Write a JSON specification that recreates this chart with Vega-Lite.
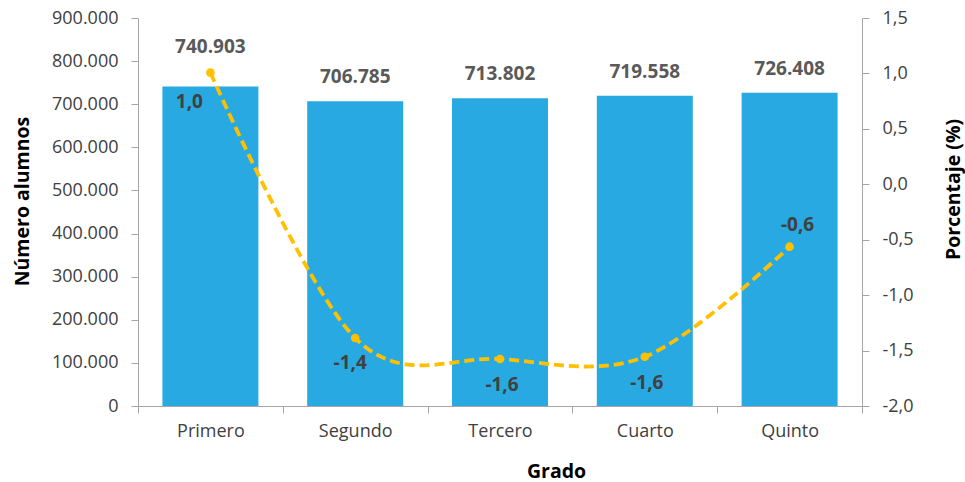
{
  "$schema": "https://vega.github.io/schema/vega-lite/v6.json",
  "width": 724,
  "height": 388,
  "autosize": {"type": "none"},
  "padding": {"left": 138, "top": 18, "right": 103, "bottom": 76},
  "background": "#ffffff",
  "config": {
    "locale": {"number": {"decimal": ",", "thousands": ".", "grouping": [3], "currency": ["", " €"], "minus": "-"}},
    "view": {"stroke": null},
    "font": "Open Sans",
    "axis": {
      "grid": false,
      "domainColor": "#A6A6A6",
      "tickColor": "#A6A6A6",
      "tickSize": 7,
      "labelColor": "#404040",
      "labelFont": "Open Sans",
      "labelFontSize": 18,
      "titleFont": "Open Sans",
      "titleFontSize": 19.5,
      "titleFontWeight": "bold",
      "titleColor": "#000000"
    }
  },
  "data": {
    "values": [
      {"grado": "Primero", "alumnos": 740903, "pct": 1.007},
      {"grado": "Segundo", "alumnos": 706785, "pct": -1.387},
      {"grado": "Tercero", "alumnos": 713802, "pct": -1.576},
      {"grado": "Cuarto", "alumnos": 719558, "pct": -1.556},
      {"grado": "Quinto", "alumnos": 726408, "pct": -0.563}
    ]
  },
  "encoding": {
    "x": {
      "field": "grado",
      "type": "nominal",
      "sort": null,
      "scale": {"paddingInner": 0, "paddingOuter": 0},
      "axis": {
        "title": "Grado",
        "labelAngle": 0,
        "tickBand": "extent",
        "labelPadding": 9,
        "titleX": 418,
        "titleY": 65,
        "titleBaseline": "middle",
        "titleAlign": "center"
      }
    }
  },
  "layer": [
    {
      "encoding": {
        "y": {
          "field": "alumnos",
          "type": "quantitative",
          "scale": {"domain": [0, 900000], "nice": false},
          "axis": {
            "title": "Número alumnos",
            "values": [0, 100000, 200000, 300000, 400000, 500000, 600000, 700000, 800000, 900000],
            "format": ",.0f",
            "labelPadding": 13,
            "titleAngle": 270,
            "titleX": -116,
            "titleY": 183,
            "titleAlign": "center",
            "titleBaseline": "middle"
          }
        }
      },
      "layer": [
        {"mark": {"type": "bar", "color": "#29A9E1", "width": {"band": 0.663}}},
        {
          "transform": [{"filter": "datum.grado !== 'Primero'"}],
          "mark": {"type": "text", "dy": -24, "baseline": "middle", "fontSize": 19, "fontWeight": "bold", "color": "#595959"},
          "encoding": {"text": {"field": "alumnos", "type": "quantitative", "format": ",.0f"}}
        },
        {
          "transform": [{"filter": "datum.grado === 'Primero'"}],
          "mark": {"type": "text", "dy": -40, "baseline": "middle", "fontSize": 19, "fontWeight": "bold", "color": "#595959"},
          "encoding": {"text": {"field": "alumnos", "type": "quantitative", "format": ",.0f"}}
        }
      ]
    },
    {
      "encoding": {
        "y": {
          "field": "pct",
          "type": "quantitative",
          "scale": {"domain": [-2, 1.5], "nice": false, "zero": false},
          "axis": {
            "orient": "right",
            "title": "Porcentaje (%)",
            "values": [-2, -1.5, -1, -0.5, 0, 0.5, 1, 1.5],
            "format": ".1f",
            "labelPadding": 13,
            "titleAngle": 270,
            "titleX": 91,
            "titleY": 171,
            "titleAlign": "center",
            "titleBaseline": "middle"
          }
        }
      },
      "layer": [
        {"mark": {"type": "line", "color": "#FFC000", "strokeWidth": 3.8, "strokeDash": [10, 5], "interpolate": "cardinal"}},
        {"mark": {"type": "point", "filled": true, "opacity": 1, "color": "#FFC000", "size": 75}},
        {
          "transform": [{"filter": "datum.grado === 'Primero'"}],
          "mark": {"type": "text", "dx": -21, "dy": 29, "baseline": "middle", "fontSize": 19, "fontWeight": "bold", "color": "#404040"},
          "encoding": {"text": {"field": "pct", "type": "quantitative", "format": ".1f"}}
        },
        {
          "transform": [{"filter": "datum.grado === 'Segundo'"}],
          "mark": {"type": "text", "dx": -5, "dy": 25, "baseline": "middle", "fontSize": 19, "fontWeight": "bold", "color": "#404040"},
          "encoding": {"text": {"field": "pct", "type": "quantitative", "format": ".1f"}}
        },
        {
          "transform": [{"filter": "datum.grado === 'Tercero' || datum.grado === 'Cuarto'"}],
          "mark": {"type": "text", "dx": 2, "dy": 26, "baseline": "middle", "fontSize": 19, "fontWeight": "bold", "color": "#404040"},
          "encoding": {"text": {"field": "pct", "type": "quantitative", "format": ".1f"}}
        },
        {
          "transform": [{"filter": "datum.grado === 'Quinto'"}],
          "mark": {"type": "text", "dx": 8, "dy": -22, "baseline": "middle", "fontSize": 19, "fontWeight": "bold", "color": "#404040"},
          "encoding": {"text": {"field": "pct", "type": "quantitative", "format": ".1f"}}
        }
      ]
    }
  ],
  "resolve": {"scale": {"y": "independent"}}
}
